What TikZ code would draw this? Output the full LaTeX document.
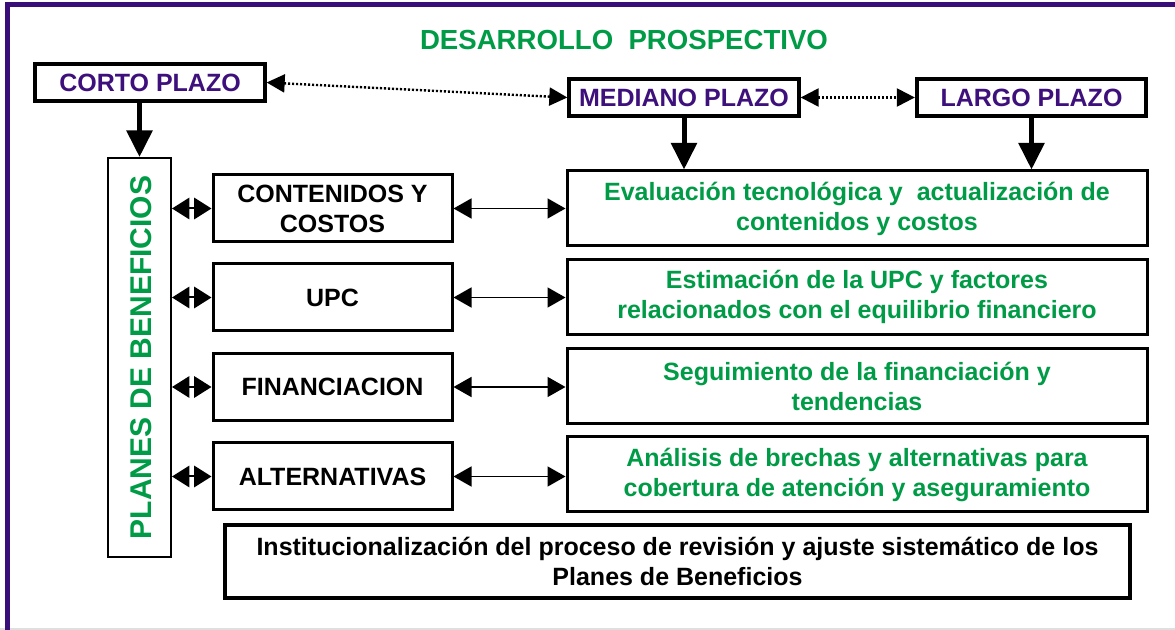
\documentclass[tikz,border=0pt]{standalone}
\usepackage{fontspec}
\setmainfont{Liberation Sans}
\usetikzlibrary{arrows.meta}
\definecolor{frameP}{RGB}{58,14,120}
\definecolor{txtP}{RGB}{62,16,124}
\definecolor{grn}{RGB}{0,155,70}
\newcommand{\fsz}[2]{\fontsize{#1}{#2}\selectfont\bfseries}
\begin{document}
\begin{tikzpicture}[x=0.75pt,y=-0.75pt,
  box/.style={draw=black, line width=2.25pt, fill=white, align=center, inner sep=0pt},
  plazo/.style={box, line width=3pt, text=txtP, font=\fsz{18.75pt}{22pt}, minimum width=172pt, minimum height=27.75pt},
  lbox/.style={box, font=\fsz{18.75pt}{22.5pt}, minimum width=179.25pt, minimum height=50.25pt},
  rbox/.style={box, text=grn, font=\fsz{18.75pt}{22.5pt}, minimum width=435pt, minimum height=56.25pt},
  thickarr/.style={line width=3.75pt, -{Triangle[length=20pt,width=19pt]}},
  dotarr/.style={line width=1.8pt, dash pattern=on 1.6pt off 1.4pt, {Triangle[length=13.5pt,width=13.5pt]}-{Triangle[length=13.5pt,width=13.5pt]}},
  ldarr/.style={line width=1.5pt, {Triangle[length=13pt,width=16pt]}-{Triangle[length=13pt,width=16pt]}},
  rdarr/.style={line width=1.2pt, {Triangle[length=13.5pt,width=15pt]}-{Triangle[length=13.5pt,width=15pt]}}
]
\useasboundingbox (0,0) rectangle (1175,630);
\fill[white] (0,0) rectangle (1175,630);
% frame
\draw[gray!25, line width=1.5pt] (0,629) -- (1175,629);
\draw[frameP, line width=3.75pt] (7,630) -- (7,5) -- (1175,5);
% title
\node[text=grn, font=\fsz{20.7pt}{24pt}] (title) at (624,40) {DESARROLLO\ \ PROSPECTIVO};
% plazo boxes
\node[plazo] (corto) at (150,82.5) {CORTO PLAZO};
\node[plazo] (mediano) at (684,97.5) {MEDIANO PLAZO};
\node[plazo] (largo) at (1031.5,97.5) {LARGO PLAZO};
% planes
\node[box, line width=1.5pt, minimum width=47.25pt, minimum height=299.25pt] (planes) at (139.5,357.5) {};
\node[rotate=90, text=grn, font=\fsz{22.5pt}{26pt}, inner sep=0pt] (planeslbl) at (141,357.5) {PLANES DE BENEFICIOS};
% left boxes
\node[lbox] (cont) at (332.5,208.5) {CONTENIDOS Y\\COSTOS};
\node[lbox] (upc) at (332.5,297.5) {UPC};
\node[lbox] (fin) at (332.5,387) {FINANCIACION};
\node[lbox] (alt) at (332.5,476.5) {ALTERNATIVAS};
% right boxes
\node[rbox] (eval) at (857,208.5) {Evaluación tecnológica y\ \ actualización de\\contenidos y costos};
\node[rbox] (estim) at (857,297) {Estimación de la UPC y factores\\relacionados con el equilibrio financiero};
\node[rbox] (seg) at (857,386.5) {Seguimiento de la financiación y\\tendencias};
\node[rbox] (anal) at (857,474.5) {Análisis de brechas y alternativas para\\cobertura de atención y aseguramiento};
% bottom
\node[box, line width=3pt, font=\fsz{18.75pt}{22pt}, minimum width=678.75pt, minimum height=54.75pt] (inst) at (677.5,561.5) {Institucionalización del proceso de revisión y ajuste sistemático de los\\Planes de Beneficios};
% connectors
\draw[dotarr] (corto.east) -- (mediano.west);
\draw[dotarr] (mediano.east) -- (largo.west);
\draw[thickarr] (planes.north |- corto.south) -- (planes.north);
\draw[thickarr] (mediano.south) -- (mediano.south |- eval.north);
\draw[thickarr] (largo.south) -- (largo.south |- eval.north);
\foreach \b/\r in {cont/eval, upc/estim, fin/seg, alt/anal}{
  \draw[ldarr] (planes.east |- \b.west) -- (\b.west);
  \draw[rdarr] (\b.east) -- (\r.west |- \b.east);
}
\end{tikzpicture}
\end{document}
